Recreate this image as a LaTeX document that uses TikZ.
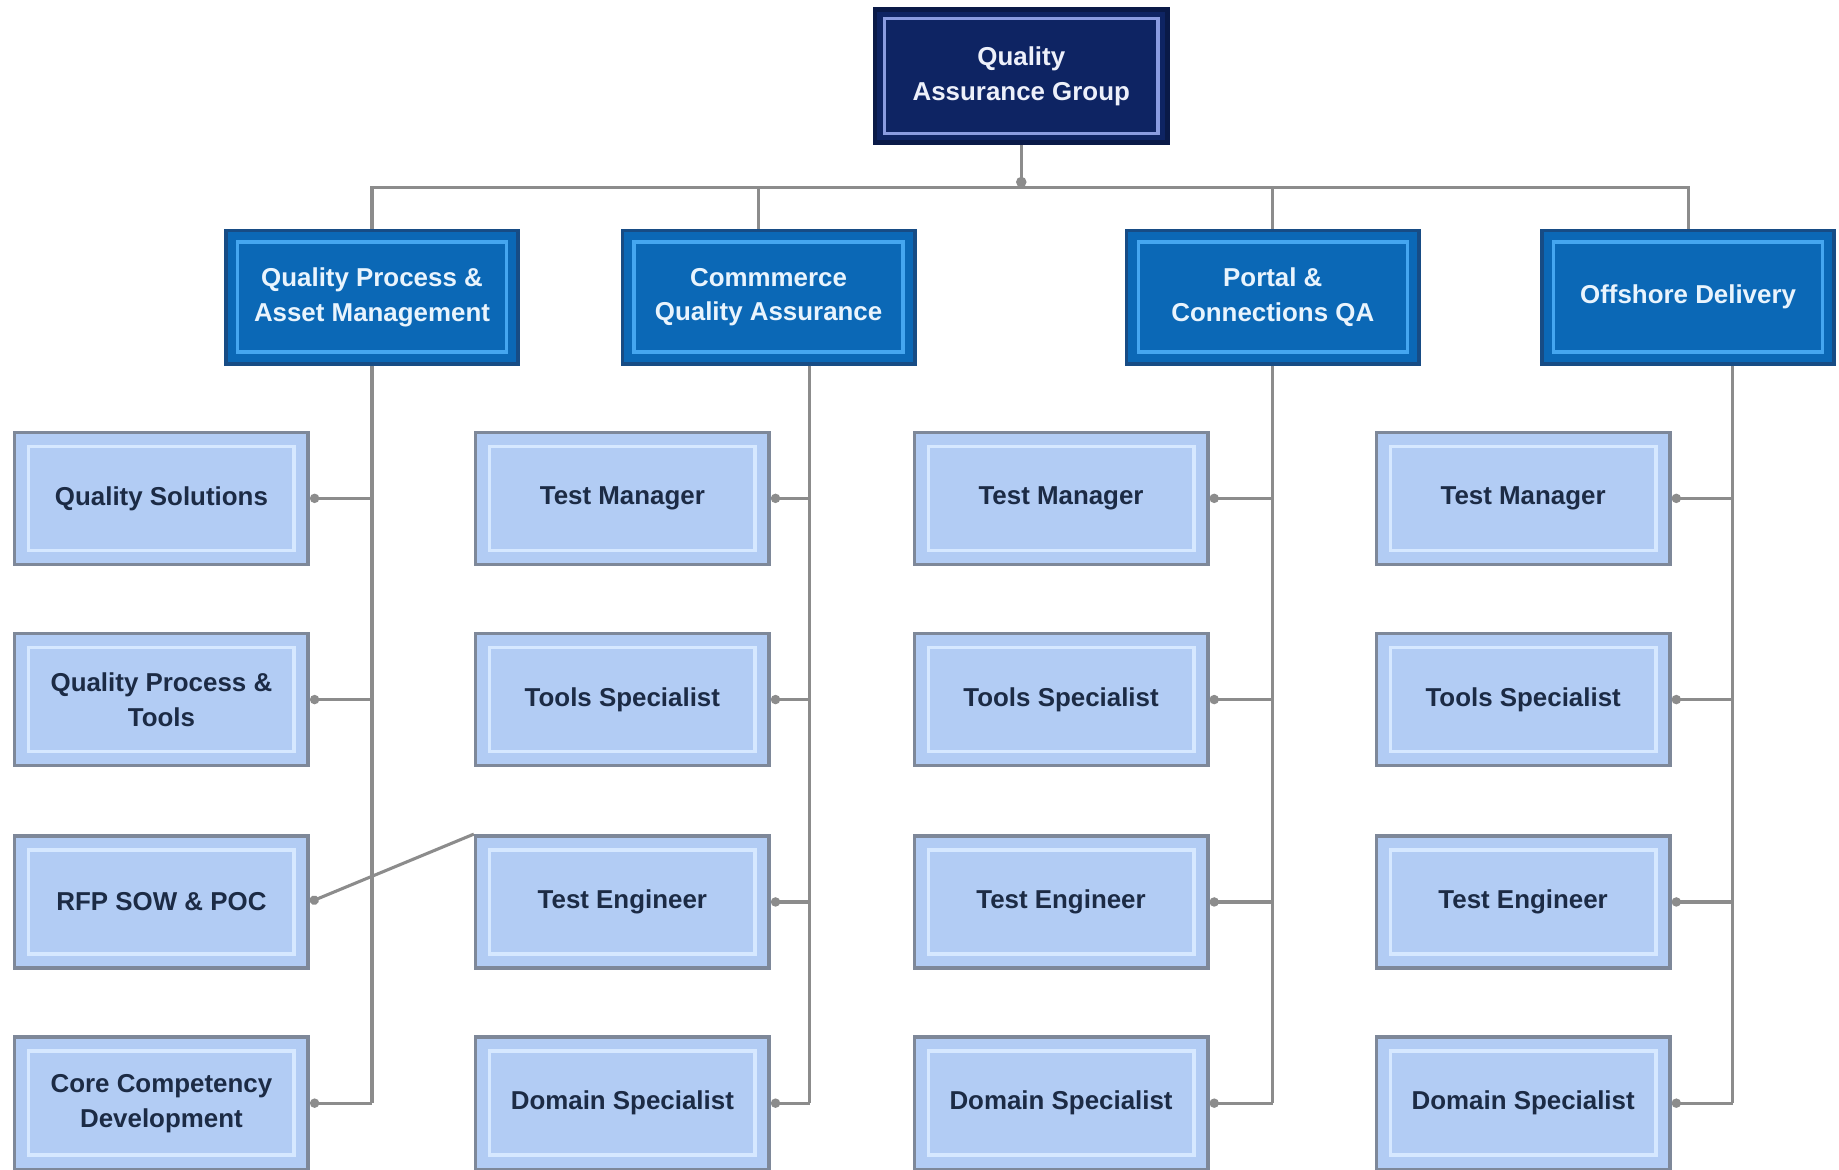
\documentclass[tikz,border=0pt]{standalone}
\usepackage{fontspec}
\setmainfont{Liberation Sans}
\usepackage{tikz}
\usetikzlibrary{arrows.meta}
\definecolor{navyfill}{HTML}{0E2463}
\definecolor{navyline}{HTML}{0A1A48}
\definecolor{navyinner}{HTML}{8A9CE0}
\definecolor{midfill}{HTML}{0B68B6}
\definecolor{midline}{HTML}{174C85}
\definecolor{midinner}{HTML}{45A6F0}
\definecolor{leaffill}{HTML}{B2CCF4}
\definecolor{leafline}{HTML}{7E8899}
\definecolor{leafinner}{HTML}{D6E8FF}
\definecolor{leaftext}{HTML}{1C2B45}
\definecolor{linkgrey}{HTML}{8C8C8C}
\tikzset{
    inset/.style 2 args={path picture={\draw[#1,line width=1.7pt]
        ([shift={(#2,-#2)}]path picture bounding box.north west) rectangle
        ([shift={(-#2,#2)}]path picture bounding box.south east);}},
    groupbox/.style={rectangle,fill=navyfill,draw=navyline,line width=2.2pt,
        minimum width=5cm,minimum height=2.28cm,align=center,text=white!85!navyinner,
        font=\bfseries\fontsize{12.6}{17}\selectfont,inset={navyinner}{0.16cm}},
    teambox/.style={rectangle,fill=midfill,draw=midline,line width=1.8pt,
        minimum width=5cm,minimum height=2.28cm,align=center,text=white!88!midinner,
        font=\bfseries\fontsize{12.6}{17}\selectfont,inset={midinner}{0.2cm}},
    rolebox/.style={rectangle,fill=leaffill,draw=leafline,line width=1.7pt,
        minimum width=5.02cm,minimum height=2.26cm,align=center,text=leaftext,
        font=\bfseries\fontsize{12.6}{17}\selectfont,inset={leafinner}{0.24cm}},
    link/.style={draw=linkgrey,line width=1.5pt},
    joint/.style={{Circle[length=4.5pt,fill=linkgrey]}-}
}
\begin{document}
\begin{tikzpicture}[x=0.02cm,y=-0.02cm]
    \useasboundingbox (0,0) rectangle (1572,1000);
    \node[groupbox] (qag) at (873,65) {Quality\\Assurance Group};
    \node[teambox] (qpam) at (318,254) {Quality Process \&\\Asset Management};
    \node[teambox] (cqa) at (657,254) {Commmerce\\Quality Assurance};
    \node[teambox] (pcqa) at (1088,254) {Portal \&\\Connections QA};
    \node[teambox] (od) at (1443,254) {Offshore Delivery};
    \coordinate (bus) at (873,160);
    \coordinate (qpam trunk) at (qpam.south);
    \coordinate (cqa trunk) at ([xshift=0.7cm]cqa.south);
    \coordinate (pcqa trunk) at (pcqa.south);
    \coordinate (od trunk) at ([xshift=0.76cm]od.south);

    \node[rolebox] (qs) at (138,426) {Quality Solutions};
    \node[rolebox] (qpt) at (138,598) {Quality Process \&\\Tools};
    \node[rolebox] (rfp) at (138,771) {RFP SOW \& POC};
    \node[rolebox] (ccd) at (138,943) {Core Competency\\Development};

    \node[rolebox] (ctm) at (532,426) {Test Manager};
    \node[rolebox] (cts) at (532,598) {Tools Specialist};
    \node[rolebox] (cte) at (532,771) {Test Engineer};
    \node[rolebox] (cds) at (532,943) {Domain Specialist};

    \node[rolebox] (ptm) at (907,426) {Test Manager};
    \node[rolebox] (pts) at (907,598) {Tools Specialist};
    \node[rolebox] (pte) at (907,771) {Test Engineer};
    \node[rolebox] (pds) at (907,943) {Domain Specialist};

    \node[rolebox] (otm) at (1302,426) {Test Manager};
    \node[rolebox] (ots) at (1302,598) {Tools Specialist};
    \node[rolebox] (ote) at (1302,771) {Test Engineer};
    \node[rolebox] (ods) at (1302,943) {Domain Specialist};

    \draw[link,-{Circle[length=5pt,fill=linkgrey]}] (qag.south) -- (bus);
    \draw[link] (qpam.north) -- (qpam.north |- bus) -- (od.north |- bus) -- (od.north);
    \draw[link] ([xshift=-0.18cm]cqa.north) -- ([xshift=-0.18cm]cqa.north |- bus);
    \draw[link] (pcqa.north) -- (pcqa.north |- bus);

    \draw[link] (qpam trunk) -- (qpam trunk |- ccd.east);
    \draw[link] (cqa trunk) -- (cqa trunk |- cds.east);
    \draw[link] (pcqa trunk) -- (pcqa trunk |- pds.east);
    \draw[link] (od trunk) -- (od trunk |- ods.east);

    \draw[link,joint] (qs.east) -- (qs.east -| qpam trunk);
    \draw[link,joint] (qpt.east) -- (qpt.east -| qpam trunk);
    \draw[link,joint] (rfp.east) -- (cte.north west);
    \draw[link,joint] (ccd.east) -- (ccd.east -| qpam trunk);

    \draw[link,joint] (ctm.east) -- (ctm.east -| cqa trunk);
    \draw[link,joint] (cts.east) -- (cts.east -| cqa trunk);
    \draw[link,joint] (cte.east) -- (cte.east -| cqa trunk);
    \draw[link,joint] (cds.east) -- (cds.east -| cqa trunk);

    \draw[link,joint] (ptm.east) -- (ptm.east -| pcqa trunk);
    \draw[link,joint] (pts.east) -- (pts.east -| pcqa trunk);
    \draw[link,joint] (pte.east) -- (pte.east -| pcqa trunk);
    \draw[link,joint] (pds.east) -- (pds.east -| pcqa trunk);

    \draw[link,joint] (otm.east) -- (otm.east -| od trunk);
    \draw[link,joint] (ots.east) -- (ots.east -| od trunk);
    \draw[link,joint] (ote.east) -- (ote.east -| od trunk);
    \draw[link,joint] (ods.east) -- (ods.east -| od trunk);
\end{tikzpicture}
\end{document}
